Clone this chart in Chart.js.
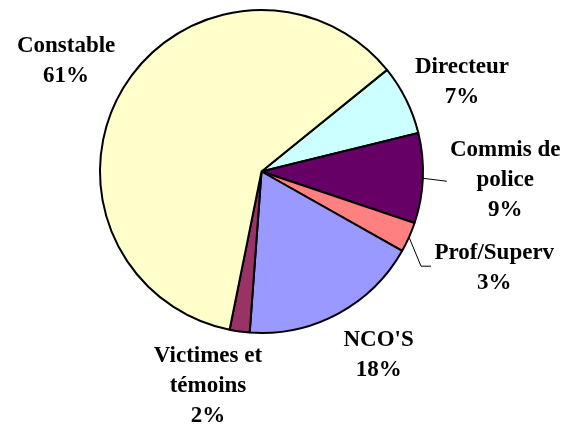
<!DOCTYPE html>
<html>
<head>
<meta charset="utf-8">
<script src="https://cdn.jsdelivr.net/npm/chart.js@4/dist/chart.umd.min.js"></script>
<style>
  html, body { margin: 0; padding: 0; background: #fff; }
  .wrap { width: 571px; height: 428px; }
</style>
</head>
<body>
<div class="wrap"><canvas id="pie-chart"></canvas></div>
<script>
// chart data
const categories = ['Directeur', 'Commis de police', 'Prof/Superv', "NCO'S", 'Victimes et témoins', 'Constable'];
const shares = [7, 9, 3, 18, 2, 61];
const labelLines = [
  ['Directeur', '7%'],
  ['Commis de', 'police', '9%'],
  ['Prof/Superv', '3%'],
  ["NCO'S", '18%'],
  ['Victimes et', 'témoins', '2%'],
  ['Constable', '61%']
];

const colors = ['#CCFFFF', '#660066', '#FF8080', '#9999FF', '#993366', '#FFFFCC'];

// where each label sits: [angle from top in degrees, distance in radii]
const labelSpot = [
  [65.9, 1.36],
  [92.1, 1.51],
  [112.5, 1.56],
  [147.5, 1.35],
  [194, 1.37],
  [299.5, 1.39]
];
// slices that get a leader line
const leaders = { 1: true, 2: true };

const lineH = 30;

const labelPlugin = {
  id: 'outsideLabels',
  afterDraw(chart) {
    const ctx = chart.ctx;
    const arcs = chart.getDatasetMeta(0).data;
    ctx.save();
    ctx.font = 'bold 23px "Liberation Serif", "Times New Roman", serif';
    ctx.fillStyle = '#000';
    ctx.textAlign = 'center';
    ctx.textBaseline = 'middle';
    arcs.forEach((arc, i) => {
      const r = arc.outerRadius;
      const a = labelSpot[i][0] * Math.PI / 180;
      const cx = arc.x + Math.sin(a) * r * labelSpot[i][1];
      const cy = arc.y - Math.cos(a) * r * labelSpot[i][1];
      const lines = labelLines[i];
      const top = cy - (lines.length - 1) * lineH / 2;
      lines.forEach((t, k) => ctx.fillText(t, cx, top + k * lineH));

      if (leaders[i]) {
        const mid = (arc.startAngle + arc.endAngle) / 2;
        const ex = arc.x + Math.cos(mid) * r;
        const ey = arc.y + Math.sin(mid) * r;
        ctx.strokeStyle = '#000';
        ctx.lineWidth = 1;
        ctx.beginPath();
        ctx.moveTo(ex, ey);
        if (i === 1) {
          ctx.lineTo(ex + 24, ey + 3);
        } else {
          ctx.lineTo(ex + 12, ey + 29);
          ctx.lineTo(ex + 22, ey + 29);
        }
        ctx.stroke();
      }
    });
    ctx.restore();
  }
};

const canvas = document.getElementById('pie-chart');
new Chart(canvas.getContext('2d'), {
  type: 'pie',
  data: {
    labels: categories,
    datasets: [{
      data: shares,
      backgroundColor: colors,
      borderColor: '#000',
      borderWidth: 2
    }]
  },
  options: {
    responsive: true,
    maintainAspectRatio: false,
    animation: false,
    rotation: 51,
    layout: { padding: { left: 99, right: 147, top: 9, bottom: 94 } },
    plugins: {
      legend: { display: false },
      tooltip: { enabled: false }
    }
  },
  plugins: [labelPlugin]
});
</script>
</body>
</html>
